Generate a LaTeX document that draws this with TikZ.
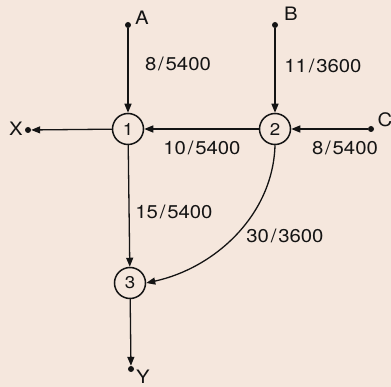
\documentclass[tikz,border=0pt]{standalone}
\usepackage{fontspec}
\setmainfont{TeX Gyre Heros}[FakeStretch=1.1]
\usetikzlibrary{arrows.meta}
\definecolor{bg}{RGB}{245,231,221}
\definecolor{ink}{RGB}{20,20,20}
\newcommand{\fr}[2]{#1\kern1.8pt/\kern1.8pt#2}
\begin{document}
\begin{tikzpicture}[x=1pt,y=-1pt,
  every node/.style={font=\fontsize{18.5}{20}\selectfont, text=ink},
  state/.style={circle,draw=ink,line width=1.5pt,minimum size=31pt,inner sep=0pt,font=\fontsize{17}{18}\selectfont},
  dot/.style={circle,fill=ink,inner sep=0pt,minimum size=6pt},
  flow/.style={draw=ink,line width=1.3pt,-{Triangle[length=9pt,width=7pt]}}]
\fill[bg] (0,0) rectangle (391,387);
\useasboundingbox (0,0) rectangle (391,387);
\node[state] (n1) at (128,129) {1};
\node[state] (n2) at (275,129) {2};
\node[state] (n3) at (130,283) {3};
\node[dot] (a) at (128,25) {};
\node[dot] (b) at (275,25) {};
\node[dot] (c) at (371,129) {};
\node[dot] (x) at (28,130) {};
\node[dot] (y) at (131,369) {};
\node (la) at (142,18) {A};
\node (lb) at (291,14) {B};
\node (lc) at (385,120) {C};
\node (lx) at (16,129) {X};
\node (ly) at (143,377) {Y};
\draw[flow] (a) -- (n1);
\draw[flow] (b) -- (n2);
\draw[flow] (c) -- (n2);
\draw[flow] (n2) -- (n1);
\draw[flow] (n1) -- (x);
\draw[flow] (n1) -- (n3);
\draw[flow] (n3) -- (y);
\draw[flow] (n2.south) .. controls (273,215) and (215,268) .. (n3.east);
\node (l1) at (178,64) {\fr{8}{5400}};
\node (l2) at (323,66) {\fr{11}{3600}};
\node (l3) at (202,148) {\fr{10}{5400}};
\node (l4) at (345,148) {\fr{8}{5400}};
\node (l5) at (174,212) {\fr{15}{5400}};
\node (l6) at (285,236) {\fr{30}{3600}};
\end{tikzpicture}
\end{document}
